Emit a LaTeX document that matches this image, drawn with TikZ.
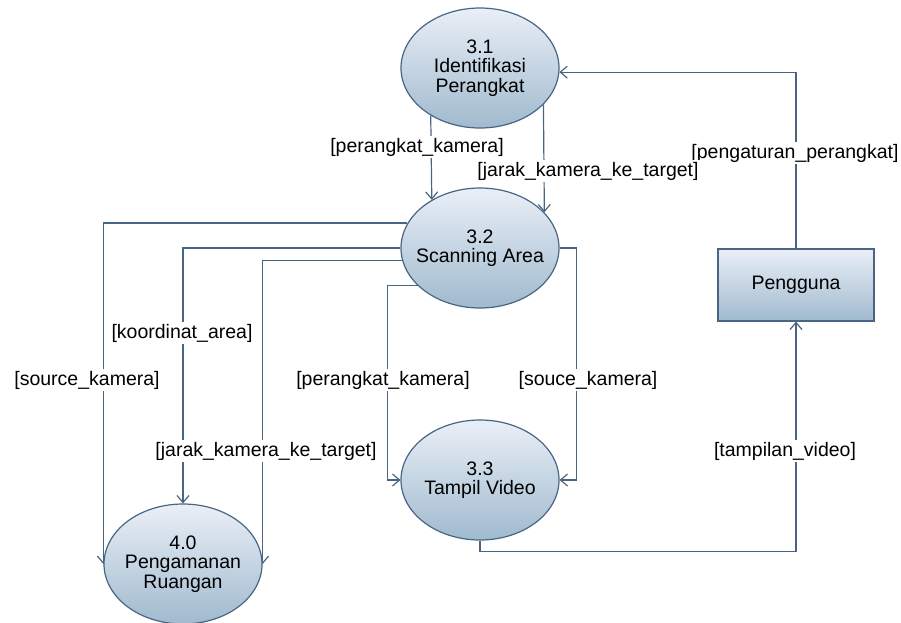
\documentclass[tikz,border=0pt]{standalone}
\usepackage{fontspec}
\setmainfont{Liberation Sans}
\usepackage{tikz}
\usetikzlibrary{arrows.meta, positioning, shapes.geometric, backgrounds}
\definecolor{dfdline}{RGB}{72,102,132}
\definecolor{dfdtop}{RGB}{234,239,247}
\definecolor{dfdbot}{RGB}{160,186,206}
\tikzset{
  proc/.style  = {ellipse, draw=dfdline, line width=1.2pt, align=center,
                  top color=dfdtop, bottom color=dfdbot, inner sep=-9pt,
                  minimum width=158, minimum height=120,
                  font=\fontsize{19.5}{19.5}\selectfont},
  ent/.style   = {rectangle, draw=dfdline, line width=1.2pt, align=center,
                  top color=dfdtop, bottom color=dfdbot,
                  minimum width=156, minimum height=72,
                  font=\fontsize{19.5}{19.5}\selectfont},
  flow/.style  = {draw=dfdline, line width=1.2pt,
                  -{Straight Barb[length=7pt, width=12pt]}},
  lbl/.style   = {fill=white, inner sep=2pt,
                  font=\fontsize{19.5}{19.5}\selectfont},
}

\begin{document}
\begin{tikzpicture}[x=1pt, y=-1pt]
  \useasboundingbox (0,0) rectangle (901,622);

  % processes
  \node[proc] (p31) at (480,68)  {3.1\\Identifikasi\\Perangkat};
  \node[proc] (p32) at (480,248) {3.2\\Scanning Area};
  \node[proc] (p33) at (480,480) {3.3\\Tampil Video};
  \node[proc] (p40) at (183,564) {4.0\\Pengamanan\\Ruangan};
  \node[ent]  (pengguna) at (796,285) {Pengguna};

  % flows
  \begin{scope}[on background layer]
    \draw[flow] (pengguna.north) |- (p31.-3);
    \draw[flow] (p31.224.8) -- (p32.135.2);
    \draw[flow] (p31.330.1) -- (p32.29.9);
    \draw[flow] (p32.161.2) -| (p40.west);
    \draw[flow] (p32.west) -| (p40.north);
    \draw[flow] (p32.189.9) -| (p40.east);
    \draw[flow] (p32.211.3) -| ([xshift=-13pt]p33.west) -- (p33.west);
    \draw[flow] (p32.east) -| ([xshift=17pt]p33.east) -- (p33.east);
    \draw[flow] (p33.south) -- ++(0,11) -| (pengguna.south);
  \end{scope}

  % labels
  \node[lbl] (lpengaturan) at (795,153) {[pengaturan\_perangkat]};
  \node[lbl] (lperangkat1) at (417,147) {[perangkat\_kamera]};
  \node[lbl] (ljarak1)     at (588,171) {[jarak\_kamera\_ke\_target]};
  \node[lbl] (lkoordinat)  at (182,333) {[koordinat\_area]};
  \node[lbl] (lsource)     at (87,380)  {[source\_kamera]};
  \node[lbl] (lperangkat2) at (383,380) {[perangkat\_kamera]};
  \node[lbl] (lsouce)      at (588,380) {[souce\_kamera]};
  \node[lbl] (ljarak2)     at (266,451) {[jarak\_kamera\_ke\_target]};
  \node[lbl] (ltampilan)   at (785,451) {[tampilan\_video]};
\end{tikzpicture}
\end{document}
